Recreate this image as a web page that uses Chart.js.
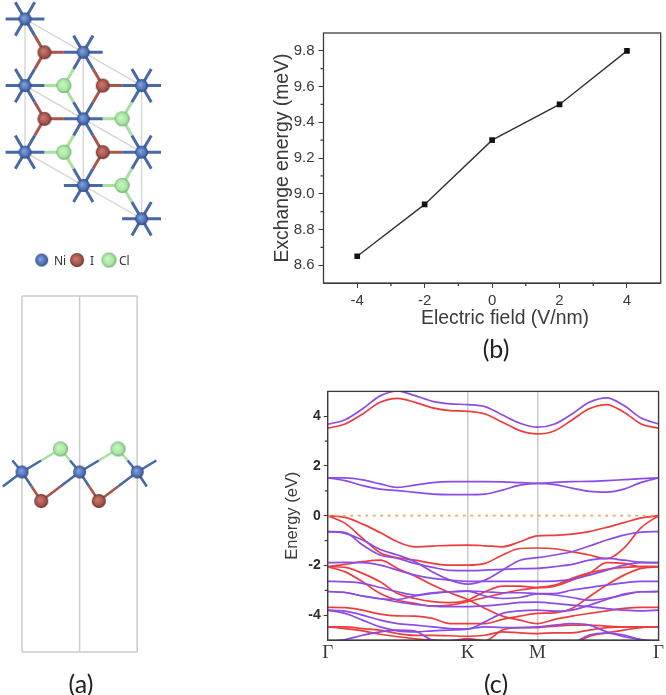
<!DOCTYPE html>
<html>
<head>
<meta charset="utf-8">
<script src="https://cdn.jsdelivr.net/npm/chart.js@4"></script>
<style>
  html, body { margin: 0; background: #fff; }
  #page { position: relative; width: 666px; height: 695px; overflow: hidden; filter: blur(0.45px); }
  canvas { position: absolute; }
  .cap { position: absolute; font-family: Lato, sans-serif; font-size: 25px; color: #222; transform: translate(-50%, -50%); }
  .leg { position: absolute; font-family: "Noto Sans", sans-serif; font-size: 12px; color: #333; transform: translateY(-50%); }
  .xtitle { position: absolute; font-family: "Liberation Sans", Arial, sans-serif; font-size: 19.4px; color: #3a3a3a; transform: translate(-50%, -50%); white-space: nowrap; }
</style>
</head>
<body>
<div id="page">
  <canvas id="chart_top" width="180" height="280" style="left:0;top:0"></canvas>
  <canvas id="chart_side" width="180" height="380" style="left:0;top:290px"></canvas>
  <canvas id="chart_b" width="398" height="330" style="left:268px;top:0"></canvas>
  <canvas id="chart_c" width="383" height="280" style="left:283px;top:380px"></canvas>
  <span class="leg" style="left:54px;top:260px">Ni</span>
  <span class="leg" style="left:90px;top:260px">I</span>
  <span class="leg" style="left:119px;top:260px">Cl</span>
  <span class="xtitle" style="left:505px;top:317px">Electric field (V/nm)</span>
  <span class="cap" style="left:81px;top:683px">(a)</span>
  <span class="cap" style="left:496px;top:348px">(b)</span>
  <span class="cap" style="left:496px;top:683px">(c)</span>
</div>
<script>
// panel (a) top view, lattice units
const niX = [0, 1, 0, 2, 1, 0, 2, 1, 2];
const niY = [0, 1, 2, 2, 3, 4, 4, 5, 6];
const iX = [1/3, 4/3, 1/3, 4/3];
const iY = [1, 2, 3, 4];
const clX = [2/3, 5/3, 2/3, 5/3];
const clY = [2, 3, 4, 5];
const legendX = [0.286, 0.892, 1.44];
const legendY = 7.24;

// panel (a) side view
const sideNiX = [0, 1, 2];
const sideIX = [1/3, 4/3];
const sideClX = [2/3, 5/3];
const sideClZ = 2.3;
const sideIZ = -2.9;

// panel (b)
const fieldValues = [-4, -2, 0, 2, 4];
const exchangeValues = [8.65, 8.94, 9.30, 9.50, 9.80];

// panel (c) band structure, path positions and energies in eV
const kPath = [0, 0.125, 0.25, 0.375, 0.5, 0.625, 0.75, 0.875, 1, 1.125, 1.25, 1.375, 1.5, 1.624, 1.747, 1.871, 1.995, 2.119, 2.242, 2.366];
const kTicks = [0, 1, 1.5, 2.366];
const kLabels = ['Γ', 'K', 'M', 'Γ'];
const fermi = [0, 0];
const fermiK = [0, 2.366];

const upC = [3.52, 3.69, 4.09, 4.56, 4.72, 4.56, 4.34, 4.23, 4.20, 4.09, 3.76, 3.42, 3.29, 3.42, 3.85, 4.30, 4.47, 4.16, 3.69, 3.52];
const up1 = [0, -0.07, -0.34, -0.68, -1.05, -1.25, -1.22, -1.19, -1.18, -1.21, -1.25, -1.05, -0.81, -0.79, -0.74, -0.64, -0.47, -0.28, -0.09, 0];
const up2 = [0, -0.31, -0.91, -1.49, -1.69, -1.79, -1.92, -1.99, -1.99, -1.92, -1.58, -1.32, -1.30, -1.33, -1.45, -1.58, -1.73, -1.30, -0.48, 0];
const up3 = [-2.05, -1.96, -1.85, -1.79, -2.12, -2.43, -2.79, -3.10, -3.37, -3.73, -4.04, -4.20, -4.34, -4.17, -4.04, -3.93, -3.83, -3.73, -3.69, -3.69];
const up4 = [-2.05, -2.08, -2.32, -2.66, -3.13, -3.33, -3.46, -3.50, -3.40, -3.06, -2.83, -2.83, -2.89, -2.83, -2.59, -2.32, -1.89, -1.92, -2.05, -2.05];
const up5 = [-2.05, -2.26, -2.66, -3.13, -3.40, -3.53, -3.64, -3.60, -3.46, -3.29, -3.13, -2.99, -2.89, -2.79, -2.52, -2.30, -2.16, -2.08, -2.05, -2.05];
const up6 = [-3.69, -3.70, -3.80, -3.96, -4.03, -4.04, -4.13, -4.34, -4.34, -4.34, -4.17, -4.04, -3.93, -3.91, -3.73, -3.26, -2.79, -2.39, -2.12, -2.05];
const up7 = [-4.47, -4.47, -4.54, -4.60, -4.74, -4.81, -4.81, -4.83, -4.85, -4.81, -4.67, -4.71, -4.74, -4.71, -4.71, -4.60, -4.50, -4.47, -4.47, -4.47];
const up8 = [-4.47, -4.54, -4.63, -4.77, -4.87, -4.95, -5.01, -5.03, -4.94, -5.03, -4.60, -4.50, -4.50, -4.44, -4.40, -4.40, -4.44, -4.47, -4.47, -4.47];
const up9 = [-5.17, -5.14, -5.12, -5.07, -5.03, -5.03, -5.07, -5.11, -5.07, -5.14, -5.27, -5.41, -5.48, -5.41, -5.21, -4.85, -4.71, -4.60, -4.50, -4.47];

const downC = [3.68, 3.86, 4.30, 4.82, 5.02, 4.83, 4.60, 4.50, 4.47, 4.39, 4.05, 3.72, 3.56, 3.69, 4.09, 4.56, 4.74, 4.43, 3.93, 3.69];
const downA = [1.52, 1.41, 1.21, 1.07, 1.01, 0.94, 0.87, 0.85, 0.85, 0.87, 1.03, 1.23, 1.30, 1.25, 1.11, 0.98, 0.95, 1.07, 1.34, 1.52];
const downB = [1.52, 1.52, 1.44, 1.28, 1.14, 1.23, 1.33, 1.37, 1.37, 1.37, 1.36, 1.33, 1.30, 1.34, 1.37, 1.38, 1.41, 1.45, 1.49, 1.52];
const down1 = [-0.64, -0.71, -0.98, -1.36, -1.58, -1.85, -2.26, -2.59, -2.75, -2.59, -2.19, -1.79, -1.69, -1.58, -1.45, -1.22, -0.98, -0.78, -0.66, -0.64];
const down2 = [-0.64, -0.68, -1.18, -1.58, -1.72, -1.92, -2.08, -2.20, -2.21, -2.19, -2.16, -2.13, -2.12, -2.05, -1.96, -1.79, -1.72, -1.79, -1.87, -1.89];
const down3 = [-1.89, -1.88, -1.89, -1.99, -2.19, -2.39, -2.52, -2.59, -2.64, -2.64, -2.64, -2.64, -2.64, -2.63, -2.56, -2.39, -2.19, -1.99, -1.89, -1.89];
const down4 = [-2.64, -2.66, -2.72, -2.89, -3.06, -3.19, -3.10, -3.06, -3.03, -3.06, -3.10, -3.10, -3.13, -3.13, -2.99, -2.89, -2.79, -2.70, -2.64, -2.64];
const down5 = [-3.05, -3.09, -3.23, -3.34, -3.37, -3.23, -3.13, -3.06, -3.03, -3.23, -3.33, -3.29, -3.15, -3.19, -3.29, -3.40, -3.33, -3.19, -3.06, -3.05];
const down6 = [-3.80, -3.84, -4.00, -4.20, -4.34, -4.40, -4.47, -4.54, -4.56, -4.27, -3.93, -3.83, -3.80, -3.84, -3.80, -3.60, -3.37, -3.15, -3.06, -3.05];
const down7 = [-3.80, -3.93, -4.20, -4.47, -4.63, -4.67, -4.63, -4.60, -4.56, -4.47, -4.50, -4.50, -4.47, -4.40, -4.34, -4.40, -4.67, -4.87, -4.98, -5.07];
const down8 = [-5.07, -4.98, -4.81, -4.67, -4.60, -4.64, -5.00, -5.03, -4.98, -5.10, -5.30, -5.40, -5.40, -5.40, -5.15, -4.80, -4.72, -4.80, -5.00, -5.10];
const down9 = [-3.05, -3.09, -3.23, -3.34, -3.47, -3.57, -3.64, -3.66, -3.66, -3.63, -3.57, -3.49, -3.48, -3.53, -3.60, -3.66, -3.74, -3.80, -3.83, -3.80];

const upBands = [upC, up1, up2, up3, up4, up5, up6, up7, up8, up9];
const downBands = [downC, downA, downB, down1, down2, down3, down4, down5, down6, down7, down8, down9];

const RED = '#ee3c3e', PURPLE = '#8d4be6', GRAY = '#cbcbcb', BLUE = '#4868a8', BROWN = '#a8554c', GREEN = '#a6e2a0';
const AXIS = '#3c3c3c', TEXT = '#3a3a3a', SANS = '"Liberation Sans", Arial, sans-serif';

function ball(r, light, mid, dark) {
    const c = document.createElement('canvas');
    c.width = c.height = Math.ceil(r * 2) + 2;
    const g = c.getContext('2d');
    const m = c.width / 2;
    const grad = g.createRadialGradient(m - r * 0.2, m - r * 0.2, r * 0.1, m, m, r);
    grad.addColorStop(0, light);
    grad.addColorStop(0.7, mid);
    grad.addColorStop(1, dark);
    g.fillStyle = grad;
    g.beginPath();
    g.arc(m, m, r, 0, Math.PI * 2);
    g.fill();
    return c;
}
const niBall = ball(6.5, '#7fa0dc', '#4a6fb4', '#2a3f70');
const iBall = ball(7, '#c9766b', '#a5524a', '#5e2e2a');
const clBall = ball(7.5, '#c8f4c2', '#a6e6a0', '#6aa468');

function balls(xs, ys, img) {
    return {
        data: xs.map((x, i) => ({ x: x, y: Array.isArray(ys) ? ys[i] : ys })),
        pointStyle: img, pointRadius: 6, showLine: false
    };
}
function sticks(segments, color, width) {
    const data = [];
    segments.forEach(s => data.push({ x: s[0], y: s[1] }, { x: s[2], y: s[3] }, { x: NaN, y: NaN }));
    return { data: data, showLine: true, borderColor: color, borderWidth: width, pointRadius: 0 };
}
function plainOptions(x0, x1, y0, y1, rev) {
    return {
        responsive: false, animation: false,
        plugins: { legend: { display: false }, tooltip: { enabled: false } },
        layout: { padding: 0, autoPadding: false },
        scales: {
            x: { type: 'linear', display: false, min: x0, max: x1 },
            y: { type: 'linear', display: false, min: y0, max: y1, reverse: !!rev }
        }
    };
}

// top view
const stubDirs = [[1/3, 0], [-1/3, 0], [1/6, 0.5], [-1/6, 0.5], [1/6, -0.5], [-1/6, -0.5]];
const iDirs = [[-1/6, -0.5], [-1/6, 0.5], [1/3, 0]];
const clDirs = [[1/6, -0.5], [1/6, 0.5], [-1/3, 0]];
const outDirs = (xs, ys, dirs) => xs.flatMap((x, i) => dirs.map(d => [x, ys[i], x + d[0], ys[i] + d[1]]));
const cellLines = [[0, 0, 0, 4], [1, 1, 1, 5], [2, 2, 2, 6], [0, 0, 2, 2], [0, 2, 2, 4], [0, 4, 2, 6]];

new Chart(document.getElementById('chart_top'), {
    type: 'scatter',
    data: { datasets: [
        balls(legendX.slice(0, 1), legendY, niBall),
        balls(legendX.slice(1, 2), legendY, iBall),
        balls(legendX.slice(2, 3), legendY, clBall),
        balls(niX, niY, niBall),
        balls(iX, iY, iBall),
        balls(clX, clY, clBall),
        sticks(outDirs(niX, niY, stubDirs), BLUE, 3),
        sticks(outDirs(iX, iY, iDirs), BROWN, 3),
        sticks(outDirs(clX, clY, clDirs), GREEN, 3),
        sticks(cellLines, '#d4d4d4', 1.3)
    ] },
    options: plainOptions(-0.429, 2.659, -0.57, 7.84, true)
});

// side view
const sideAnions = [[-1/3, sideClZ], [2/3, sideClZ], [5/3, sideClZ], [8/3, sideClZ], [-2/3, sideIZ], [1/3, sideIZ], [4/3, sideIZ], [7/3, sideIZ]];
const sideBlue = [];
sideAnions.forEach(a => {
    const near = a[1] > 0 ? [a[0] - 2/3, a[0] + 1/3] : [a[0] - 1/3, a[0] + 2/3];
    near.forEach(nx => {
        if (sideNiX.some(v => Math.abs(v - nx) < 0.01)) sideBlue.push([nx, 0, (nx + a[0]) / 2, a[1] / 2]);
    });
});
const sideHalf = (xs, z, offs) => xs.flatMap(x => offs.map(o => [x, z, x + o / 2, z / 2]));
const sideCell = [[0, -18, 0, 17.6], [1, -18, 1, 17.6], [2, -18, 2, 17.6], [0, 17.6, 2, 17.6], [0, -18, 2, -18]];

new Chart(document.getElementById('chart_side'), {
    type: 'scatter',
    data: { datasets: [
        balls(sideNiX, 0, niBall),
        balls(sideIX, sideIZ, iBall),
        balls(sideClX, sideClZ, clBall),
        sticks(sideBlue, BLUE, 2.6),
        sticks(sideHalf(sideIX, sideIZ, [-1/3, 2/3]), BROWN, 2.6),
        sticks(sideHalf(sideClX, sideClZ, [-2/3, 1/3]), GREEN, 2.6),
        sticks(sideCell, GRAY, 1.5)
    ] },
    options: plainOptions(-0.382, 2.743, -19.8, 18.2)
});

// frame round the plot and the short unlabelled ticks
function frame(xMinor, yMinor) {
    return {
        id: 'frame',
        afterDatasetsDraw(chart) {
            const a = chart.chartArea, g = chart.ctx;
            g.save();
            g.strokeStyle = AXIS;
            g.lineWidth = 1.3;
            g.strokeRect(a.left, a.top, a.right - a.left, a.bottom - a.top);
            g.beginPath();
            xMinor.forEach(v => {
                const p = chart.scales.x.getPixelForValue(v);
                g.moveTo(p, a.bottom); g.lineTo(p, a.bottom + 3);
            });
            yMinor.forEach(v => {
                const p = chart.scales.y.getPixelForValue(v);
                g.moveTo(a.left, p); g.lineTo(a.left - 3, p);
            });
            g.stroke();
            g.restore();
        }
    };
}

new Chart(document.getElementById('chart_b'), {
    type: 'scatter',
    data: { datasets: [{
        data: fieldValues.map((x, i) => ({ x: x, y: exchangeValues[i] })),
        showLine: true, borderColor: '#333', borderWidth: 1.4,
        pointStyle: 'rect', pointRadius: 4, pointBackgroundColor: '#111', pointBorderWidth: 0
    }] },
    options: {
        responsive: false, animation: false,
        plugins: { legend: { display: false }, tooltip: { enabled: false } },
        layout: { padding: { top: 33, right: 5.3, bottom: 2, left: 3 } },
        scales: {
            x: {
                type: 'linear', min: -5, max: 5,
                afterFit(s) { s.height = 45; },
                afterBuildTicks(s) { s.ticks = fieldValues.map(v => ({ value: v })); },
                grid: { drawOnChartArea: false, tickLength: 5, tickColor: AXIS },
                border: { color: AXIS },
                ticks: { color: TEXT, font: { family: SANS, size: 15 }, padding: 4, maxRotation: 0 }
            },
            y: {
                type: 'linear', min: 8.5, max: 9.9,
                afterFit(s) { s.width = 52.5; },
                afterBuildTicks(s) { s.ticks = [8.6, 8.8, 9.0, 9.2, 9.4, 9.6, 9.8].map(v => ({ value: v })); },
                grid: { drawOnChartArea: false, tickLength: 5, tickColor: AXIS },
                border: { color: AXIS },
                ticks: { color: TEXT, font: { family: SANS, size: 15 }, padding: 4, callback: v => v.toFixed(1) },
                title: { display: true, text: 'Exchange energy (meV)', color: TEXT, font: { family: SANS, size: 19.4 }, padding: 0 }
            }
        }
    },
    plugins: [frame([-3, -1, 1, 3], [8.7, 8.9, 9.1, 9.3, 9.5, 9.7])]
});

const bandSet = (bands, color) => bands.map(b => ({
    data: kPath.map((k, i) => ({ x: k, y: b[i] })),
    showLine: true, borderColor: color, borderWidth: 1.7, pointRadius: 0,
    cubicInterpolationMode: 'monotone'
}));

new Chart(document.getElementById('chart_c'), {
    type: 'scatter',
    data: { datasets: [
        {
            data: fermiK.map((k, i) => ({ x: k, y: fermi[i] })),
            showLine: true, borderColor: '#f4a860', borderWidth: 1.8, borderDash: [3, 4.5], pointRadius: 0
        },
        ...bandSet(downBands, PURPLE),
        ...bandSet(upBands, RED)
    ] },
    options: {
        responsive: false, animation: false,
        plugins: { legend: { display: false }, tooltip: { enabled: false } },
        layout: { padding: { top: 11, right: 3.7, bottom: 0, left: 0 } },
        scales: {
            x: {
                type: 'linear', min: 0, max: 2.366,
                afterFit(s) { s.height = 20; },
                afterBuildTicks(s) { s.ticks = kTicks.map(v => ({ value: v })); },
                grid: { color: GRAY, lineWidth: 1.5, drawTicks: false },
                border: { color: AXIS },
                ticks: {
                    color: TEXT, font: { family: '"Liberation Serif", serif', size: 19 }, padding: 2,
                    maxRotation: 0, autoSkip: false, callback: (v, i) => kLabels[i]
                }
            },
            y: {
                type: 'linear', min: -5, max: 5,
                afterFit(s) { s.width = 44.7; },
                afterBuildTicks(s) { s.ticks = [-4, -2, 0, 2, 4].map(v => ({ value: v })); },
                grid: { drawOnChartArea: false, tickLength: 4, tickColor: AXIS },
                border: { color: AXIS },
                ticks: { color: '#2c2c2c', font: { family: SANS, size: 14, weight: 'bold' }, padding: 3 },
                title: { display: true, text: 'Energy (eV)', color: TEXT, font: { family: SANS, size: 16.5 }, padding: 0 }
            }
        }
    },
    plugins: [frame([], [-3, -1, 1, 3])]
});
</script>
</body>
</html>
